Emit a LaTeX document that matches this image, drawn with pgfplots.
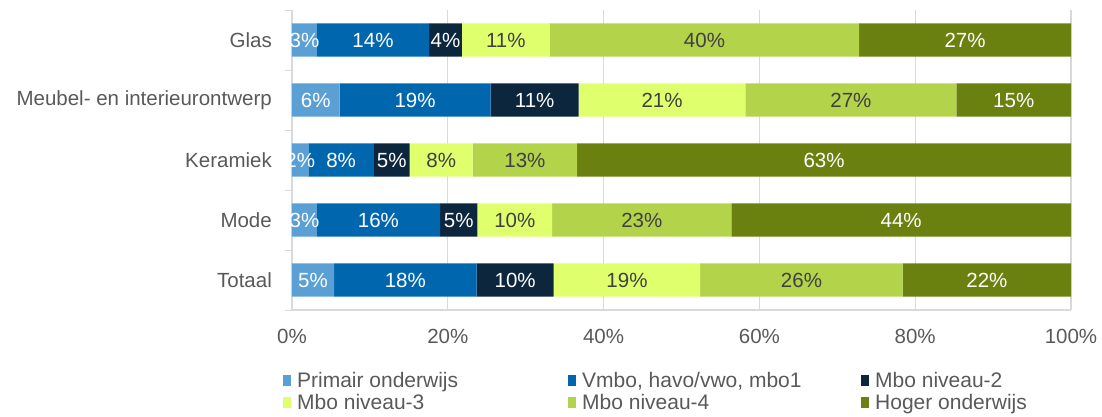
\documentclass[border=0pt]{standalone}
\usepackage{pgfplots}
\pgfplotsset{compat=1.18}
\usepackage{pgfplotstable}
\usepackage{fontspec}
\setmainfont{Liberation Sans}
\definecolor{cPrim}{HTML}{5BA0D5}
\definecolor{cVmbo}{HTML}{0067AF}
\definecolor{cMboB}{HTML}{0C263D}
\definecolor{cMboC}{HTML}{DFFF6C}
\definecolor{cMboD}{HTML}{B3D34A}
\definecolor{cHbo}{HTML}{6A810F}
\definecolor{cTxt}{HTML}{595959}
\definecolor{cDark}{HTML}{404040}
\definecolor{cGrid}{HTML}{D9D9D9}
% y: 4=Glas, 3=Meubel, 2=Keramiek, 1=Mode, 0=Totaal
\pgfplotstableread{
y v
4 3.2
3 6.1
2 2.1
1 3.2
0 5.4
}\tPrim
\pgfplotstableread{
y v
4 14.4
3 19.4
2 8.4
1 15.8
0 18.3
}\tVmbo
\pgfplotstableread{
y v
4 4.2
3 11.3
2 4.6
1 4.8
0 9.9
}\tMboB
\pgfplotstableread{
y v
4 11.3
3 21.4
2 8.1
1 9.6
0 18.8
}\tMboC
\pgfplotstableread{
y v
4 39.7
3 27.1
2 13.4
1 23.0
0 26.0
}\tMboD
\pgfplotstableread{
y v
4 27.2
3 14.7
2 63.4
1 43.6
0 21.6
}\tHbo
\begin{document}
\begin{tikzpicture}
\path[use as bounding box] (-292pt,-107pt) rectangle (810pt,310pt);
\begin{axis}[
  at={(0,0)}, anchor=south west,
  scale only axis, width=779pt, height=300pt,
  xbar stacked, bar width=33.3pt,
  xmin=0, xmax=100, ymin=-0.5, ymax=4.5,
  xtick={0,20,...,100},
  xticklabel={\pgfmathprintnumber{\tick}\%},
  xtick style={draw=none},
  ytick={0,1,2,3,4},
  yticklabels={Totaal,Mode,Keramiek,Meubel- en interieurontwerp,Glas},
  minor ytick={-0.5,0.5,...,4.5},
  major tick length=0pt, minor tick length=7pt,
  tick align=outside,
  minor tick style={draw=cGrid, line width=1pt},
  xmajorgrids, major grid style={draw=cGrid, line width=1.2pt},
  axis line style={draw=cGrid, line width=1.2pt},
  axis x line*=bottom, axis y line*=left,
  /pgf/number format/assume math mode=true,
  tick label style={font=\fontsize{20.5}{24}\selectfont, text=cTxt},
  yticklabel style={inner sep=0pt, xshift=-20pt},
  xticklabel style={inner sep=0pt, yshift=-19pt},
  point meta=explicit,
  nodes near coords={\pgfmathprintnumber[fixed,precision=0]{\pgfplotspointmeta}\%},
  every node near coord/.append style={font=\fontsize{20.5}{24}\selectfont, anchor=center, inner sep=0pt},
  legend columns=3,
  legend image code/.code={\fill[#1,draw=none] (0pt,-5.5pt) rectangle (8pt,5.5pt);},
  legend style={at={(axis description cs:-0.0116,-0.2)}, anchor=north west, draw=none, fill=none,
    inner sep=0pt, font=\fontsize{21}{25}\selectfont, text=cTxt,
    /tikz/every even column/.append style={column sep=0pt},
    /tikz/every odd column/.append style={column sep=4pt},
    row sep=1pt, cells={anchor=west}},
]
\addplot[fill=cPrim, draw=none, every node near coord/.append style={text=white}] table[x=v, y=y, meta=v] {\tPrim};
\addlegendentry{\makebox[269pt][l]{Primair onderwijs}}
\addplot[fill=cVmbo, draw=none, every node near coord/.append style={text=white}] table[x=v, y=y, meta=v] {\tVmbo};
\addlegendentry{\makebox[277pt][l]{Vmbo, havo/vwo, mbo1}}
\addplot[fill=cMboB, draw=none, every node near coord/.append style={text=white}] table[x=v, y=y, meta=v] {\tMboB};
\addlegendentry{\makebox[160pt][l]{Mbo niveau-2}}
\addplot[fill=cMboC, draw=none, every node near coord/.append style={text=cDark}] table[x=v, y=y, meta=v] {\tMboC};
\addlegendentry{\makebox[269pt][l]{Mbo niveau-3}}
\addplot[fill=cMboD, draw=none, every node near coord/.append style={text=cDark}] table[x=v, y=y, meta=v] {\tMboD};
\addlegendentry{\makebox[277pt][l]{Mbo niveau-4}}
\addplot[fill=cHbo, draw=none, every node near coord/.append style={text=white}] table[x=v, y=y, meta=v] {\tHbo};
\addlegendentry{\makebox[160pt][l]{Hoger onderwijs}}
\end{axis}
\end{tikzpicture}
\end{document}
